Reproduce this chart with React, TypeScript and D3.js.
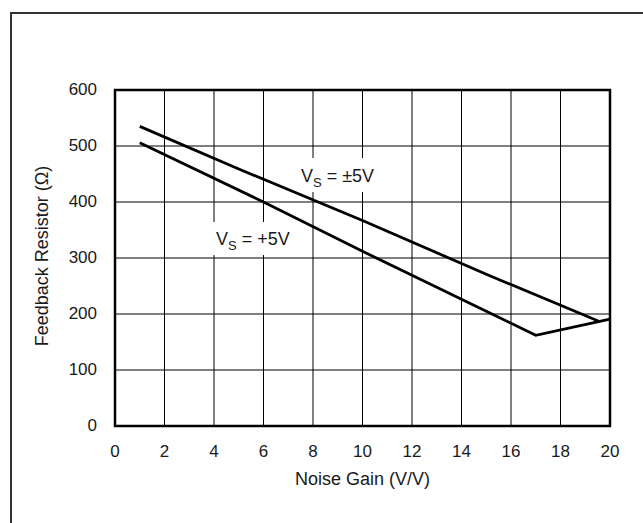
import React from "react";
import * as d3 from "d3";

const xTicks = [0, 2, 4, 6, 8, 10, 12, 14, 16, 18, 20];
const yTicks = [0, 100, 200, 300, 400, 500, 600];

const gainBipolar = [1, 5, 10, 15, 19.55];
const rBipolar = [535, 459, 367, 271, 187];

const gainSingle = [1, 6, 10, 15, 17, 20];
const rSingle = [506, 400, 312, 205, 162, 191];

const xTitle = "Noise Gain (V/V)";
const yTitle = "Feedback Resistor (Ω)";

const W = 643;
const H = 523;
const left = 115;
const right = 610;
const top = 90;
const bottom = 426;

export default function App() {
  const x = d3.scaleLinear().domain([0, 20]).range([left, right]);
  const y = d3.scaleLinear().domain([0, 600]).range([bottom, top]);
  const line = d3
    .line<[number, number]>()
    .x((d) => x(d[0]))
    .y((d) => y(d[1]));
  const bip = gainBipolar.map((g, i) => [g, rBipolar[i]] as [number, number]);
  const sgl = gainSingle.map((g, i) => [g, rSingle[i]] as [number, number]);
  const font = "'Liberation Sans', Arial, Helvetica, sans-serif";
  const txt = "#1a1a1a";

  return (
    <svg
      width={W}
      height={H}
      style={{ position: "fixed", left: 0, top: 0, background: "#fff" }}
      fontFamily={font}
    >
      <rect x={0} y={0} width={W} height={H} fill="#fff" />
      <rect x={11} y={13} width={700} height={600} fill="none" stroke="#333" strokeWidth={2} />

      {/* grid */}
      {xTicks.map((t) => (
        <line key={"gx" + t} x1={x(t)} x2={x(t)} y1={top} y2={bottom} stroke="#000" strokeWidth={1} />
      ))}
      {yTicks.map((t) => (
        <line key={"gy" + t} x1={left} x2={right} y1={y(t)} y2={y(t)} stroke="#000" strokeWidth={1} />
      ))}

      {/* label backgrounds */}
      <rect x={298} y={158} width={82} height={34} fill="#fff" />
      <rect x={210} y={222} width={86} height={33} fill="#fff" />

      {/* series */}
      <path d={line(bip) || ""} fill="none" stroke="#000" strokeWidth={2.8} />
      <path d={line(sgl) || ""} fill="none" stroke="#000" strokeWidth={2.8} />

      {/* frame */}
      <rect x={left} y={top} width={right - left} height={bottom - top} fill="none" stroke="#000" strokeWidth={2.5} />

      {/* labels */}
      <text x={301} y={182} fontSize={18} fill={txt}>
        V<tspan fontSize={13} dy={5}>S</tspan>
        <tspan dy={-5}> = ±5V</tspan>
      </text>
      <text x={216} y={245} fontSize={18} fill={txt}>
        V<tspan fontSize={13} dy={5}>S</tspan>
        <tspan dy={-5}> = +5V</tspan>
      </text>

      {/* y tick labels */}
      {yTicks.map((t) => (
        <text key={"ty" + t} x={97} y={y(t) - 1} fontSize={17} fill={txt} textAnchor="end" dominantBaseline="central">
          {t}
        </text>
      ))}
      {/* x tick labels */}
      {xTicks.map((t) => (
        <text key={"tx" + t} x={x(t)} y={451} fontSize={17} fill={txt} textAnchor="middle" dominantBaseline="central">
          {t}
        </text>
      ))}

      <text x={(left + right) / 2} y={479} fontSize={18} fill={txt} textAnchor="middle" dominantBaseline="central">
        {xTitle}
      </text>
      <text
        transform={`translate(42, 256) rotate(-90)`}
        fontSize={18}
        fill={txt}
        textAnchor="middle"
        dominantBaseline="central"
      >
        {yTitle}
      </text>
    </svg>
  );
}
